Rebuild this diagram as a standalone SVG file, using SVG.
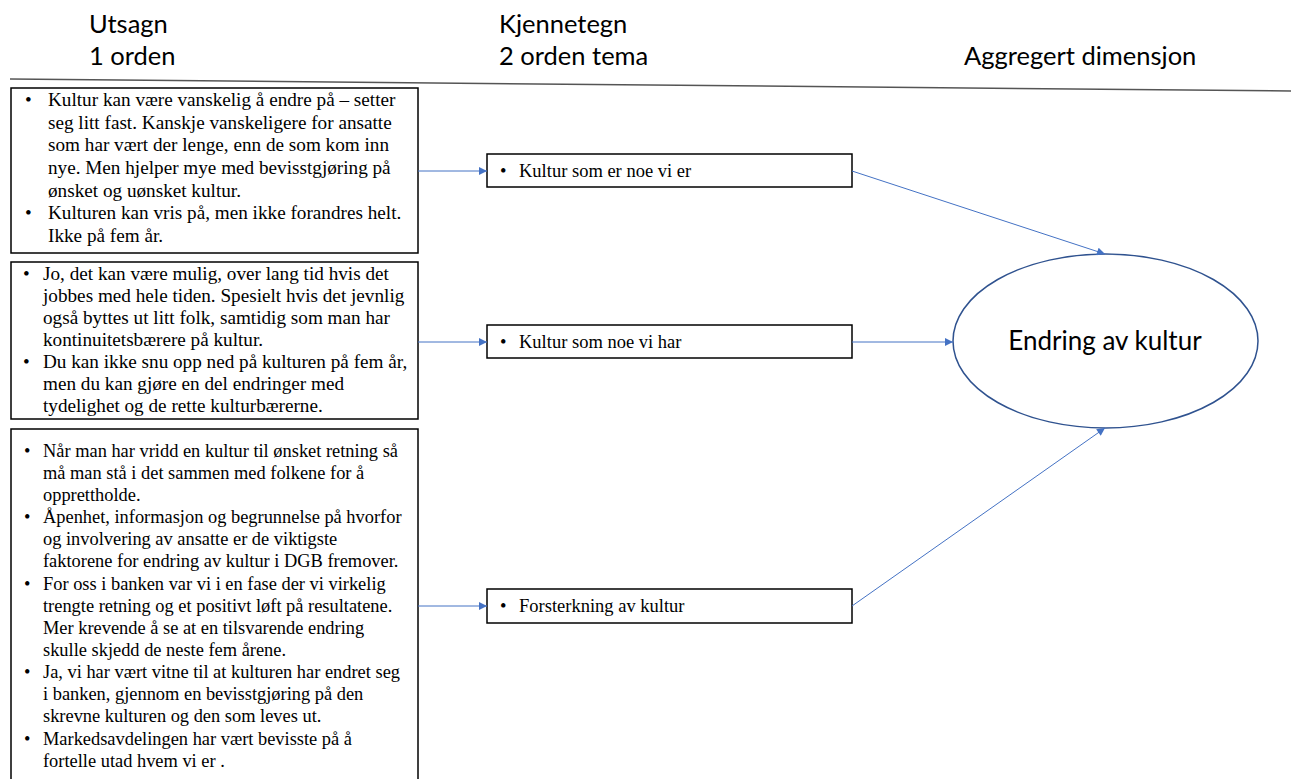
<svg xmlns="http://www.w3.org/2000/svg" width="1291" height="779" viewBox="0 0 1291 779">
  <style>
    .head { font-family: Lato, "Open Sans", sans-serif; font-size: 25.5px; fill: #000; }
    .body { font-family: "Liberation Serif", "Times New Roman", serif; font-size: 19.2px; fill: #000; }
    .body.small { font-size: 18.4px; }
    .tema { font-family: "Liberation Serif", "Times New Roman", serif; font-size: 18.5px; fill: #000; }
    .box { fill: #fff; stroke: #000; stroke-width: 1.5; }
    .conn { stroke: #4472C4; stroke-width: 1; fill: none; marker-end: url(#arrow); }
    .dim { font-family: Lato, "Open Sans", sans-serif; font-size: 26px; fill: #000; }
  </style>
  <defs>
    <marker id="arrow" viewBox="0 0 10 10" refX="10" refY="5" markerWidth="10" markerHeight="8" markerUnits="userSpaceOnUse" orient="auto">
      <path d="M0,0 L10,5 L0,10 z" fill="#4472C4"/>
    </marker>
  </defs>
  <rect width="1291" height="779" fill="#fff"/>

  <!-- column headings -->
  <g id="headings">
    <text class="head" x="89" y="33">Utsagn</text>
    <text class="head" x="89" y="65">1 orden</text>
    <text class="head" x="499" y="33">Kjennetegn</text>
    <text class="head" x="499" y="65">2 orden tema</text>
    <text class="head" x="964" y="65">Aggregert dimensjon</text>
    <line x1="10" y1="79" x2="1291" y2="91" stroke="#555" stroke-width="1.5"/>
  </g>

  <!-- first-order statements -->
  <g id="utsagn-1">
    <rect class="box" x="11" y="88" width="407" height="165"/>
    <g class="body">
      <text x="25" y="106">•</text>
      <text x="48" y="106">Kultur kan være vanskelig å endre på – setter</text>
      <text x="48" y="129">seg litt fast. Kanskje vanskeligere  for ansatte</text>
      <text x="48" y="151">som har vært der lenge, enn de som kom inn</text>
      <text x="48" y="174">nye. Men hjelper mye med bevisstgjøring på</text>
      <text x="48" y="197">ønsket og uønsket kultur.</text>
      <text x="25" y="219">•</text>
      <text x="48" y="219">Kulturen kan vris på, men ikke forandres helt.</text>
      <text x="48" y="242">Ikke på fem år.</text>
    </g>
  </g>

  <g id="utsagn-2">
    <rect class="box" x="11" y="262" width="407" height="157"/>
    <g class="body">
      <text x="23" y="280">•</text>
      <text x="43" y="280">Jo, det kan være mulig, over lang tid hvis det</text>
      <text x="43" y="302">jobbes med hele tiden. Spesielt hvis det jevnlig</text>
      <text x="43" y="324">også byttes ut litt folk, samtidig som man har</text>
      <text x="43" y="346">kontinuitetsbærere på kultur.</text>
      <text x="23" y="368">•</text>
      <text x="43" y="368">Du kan ikke snu opp ned på kulturen på fem år,</text>
      <text x="43" y="390">men du kan gjøre en del endringer med</text>
      <text x="43" y="412">tydelighet og de rette kulturbærerne.</text>
    </g>
  </g>

  <g id="utsagn-3">
    <rect class="box" x="11" y="429" width="407" height="360"/>
    <g class="body small">
      <text x="24" y="457">•</text>
      <text x="43" y="457">Når man har vridd en kultur til ønsket retning så</text>
      <text x="43" y="479">må man stå i det sammen med folkene for å</text>
      <text x="43" y="501">opprettholde.</text>
      <text x="24" y="523">•</text>
      <text x="43" y="523">Åpenhet, informasjon og begrunnelse på hvorfor</text>
      <text x="43" y="545">og involvering  av ansatte er de viktigste</text>
      <text x="43" y="567">faktorene for endring av kultur i DGB fremover.</text>
      <text x="24" y="590">•</text>
      <text x="43" y="590">For oss i banken var vi i en fase der vi virkelig</text>
      <text x="43" y="612">trengte retning og et positivt løft på resultatene.</text>
      <text x="43" y="634">Mer krevende å se at en tilsvarende endring</text>
      <text x="43" y="656">skulle skjedd de neste fem årene.</text>
      <text x="24" y="678">•</text>
      <text x="43" y="678">Ja, vi har vært vitne til at kulturen har endret seg</text>
      <text x="43" y="700">i banken, gjennom en bevisstgjøring på den</text>
      <text x="43" y="722">skrevne kulturen og den som leves ut.</text>
      <text x="24" y="745">•</text>
      <text x="43" y="745">Markedsavdelingen har vært bevisste på å</text>
      <text x="43" y="767">fortelle utad hvem vi er .</text>
    </g>
  </g>

  <!-- second-order themes -->
  <g id="tema-1">
    <rect class="box" x="487" y="154" width="365" height="33"/>
    <text class="tema" x="500" y="177">•</text>
    <text class="tema" x="519" y="177">Kultur som er noe vi er</text>
  </g>
  <g id="tema-2">
    <rect class="box" x="487" y="325" width="365" height="33"/>
    <text class="tema" x="500" y="348">•</text>
    <text class="tema" x="519" y="348">Kultur som noe vi har</text>
  </g>
  <g id="tema-3">
    <rect class="box" x="487" y="589" width="365" height="34"/>
    <text class="tema" x="500" y="612">•</text>
    <text class="tema" x="519" y="612">Forsterkning av kultur</text>
  </g>

  <!-- aggregate dimension -->
  <g id="dimensjon">
    <ellipse cx="1105.5" cy="341" rx="152.5" ry="87" fill="#fff" stroke="#2F528F" stroke-width="1.5"/>
    <text class="dim" x="1105" y="350" text-anchor="middle">Endring av kultur</text>
  </g>

  <!-- connectors -->
  <g id="connectors">
    <line class="conn" x1="418" y1="171" x2="487" y2="171"/>
    <line class="conn" x1="418" y1="342" x2="487" y2="342"/>
    <line class="conn" x1="418" y1="606" x2="487" y2="606"/>
    <line class="conn" x1="852" y1="171" x2="1105" y2="254"/>
    <line class="conn" x1="852" y1="342" x2="953" y2="342"/>
    <line class="conn" x1="852" y1="606" x2="1105" y2="428"/>
  </g>
</svg>
